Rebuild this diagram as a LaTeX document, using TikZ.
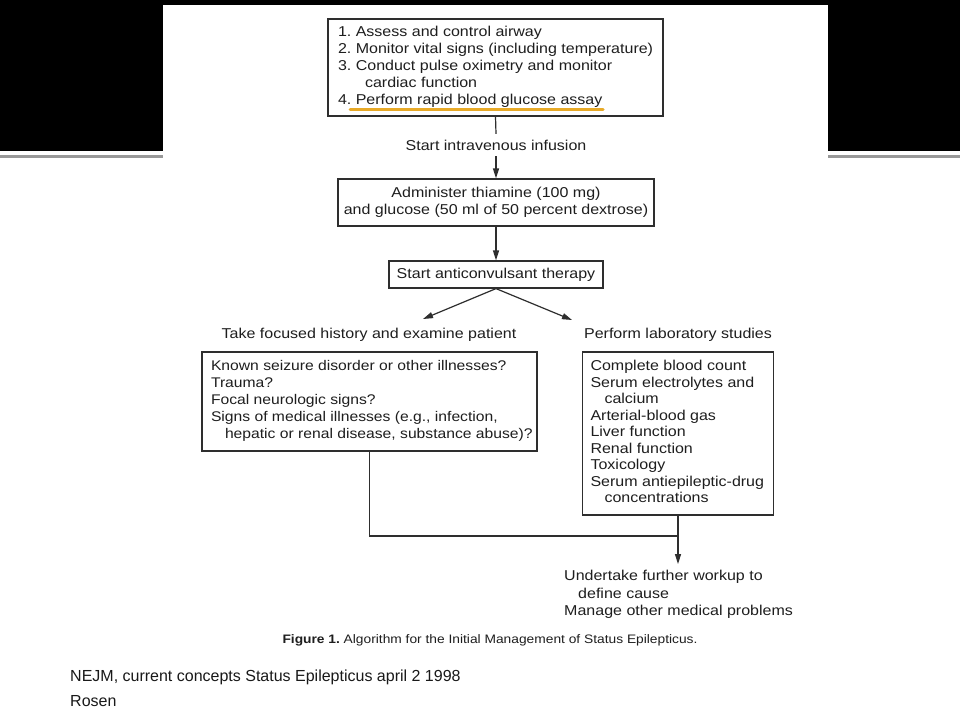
\documentclass[tikz,border=0pt]{standalone}
\usepackage{fontspec}
\setmainfont{Liberation Sans}
\newfontfamily\figfont{Liberation Sans}[FakeStretch=1.12]
\usetikzlibrary{arrows.meta}
\definecolor{inkc}{HTML}{1E1E1E}
\definecolor{linec}{HTML}{2E2E2E}
\definecolor{hl}{RGB}{232,170,40}
\newcommand\lefttext[2]{\makebox[#1][l]{\begin{tabular}{@{}l@{}}#2\end{tabular}}}
\frenchspacing
\begin{document}
\begin{tikzpicture}[x=1pt,y=-1pt,
  figtext/.style={text=inkc, font=\figfont\fontsize{14.3}{17}\selectfont},
  box/.style={figtext, draw=linec, line width=1.2pt, inner sep=0pt},
  lbl/.style={figtext, inner sep=0pt, minimum height=22pt},
  conn/.style={draw=linec, line width=1.2pt},
  arr/.style={conn, -{Triangle[length=10pt,width=6pt]}}]
\useasboundingbox (0,0) rectangle (960,720);
\fill[white] (0,0) rectangle (960,720);
% slide background
\fill[black] (0,0) rectangle (960,151);
\draw[black!40, line width=3pt] (0,156.5) -- (163,156.5);
\draw[black!40, line width=3pt] (828,156.5) -- (960,156.5);
\fill[white] (163,5) rectangle (828,652);
% boxes
\node[box, minimum width=335pt, minimum height=97pt] (assess) at (495.5,67.5)
  {\lefttext{315pt}{1. Assess and control airway\\
   2. Monitor vital signs (including temperature)\\
   3. Conduct pulse oximetry and monitor\\
   \hspace*{27pt}cardiac function\\
   4. Perform rapid blood glucose assay}};
\draw[hl, line width=3pt, line cap=round] (350,109) -- (603,109);
\node[lbl] (iv) at (496,145) {Start intravenous infusion};
\node[box, minimum width=316pt, minimum height=47pt, align=center] (thia) at (496,202.5)
  {Administer thiamine (100 mg)\\ and glucose (50 ml of 50 percent dextrose)};
\node[box, minimum width=214pt, minimum height=27pt] (anti) at (496,274.5)
  {Start anticonvulsant therapy};
\coordinate (tipL) at (423,319);
\coordinate (tipR) at (572,320);
\node[lbl] (hist) at (369,335) {Take focused history and examine patient};
\node[lbl] (labs) at (678,335) {Perform laboratory studies};
\node[box, minimum width=335pt, minimum height=99pt, font=\figfont\fontsize{14}{17}\selectfont] (hbox) at (369.5,401.5)
  {\lefttext{317pt}{Known seizure disorder or other illnesses?\\
   Trauma?\\
   Focal neurologic signs?\\
   Signs of medical illnesses (e.g., infection,\\
   \hspace*{14pt}hepatic or renal disease, substance abuse)?}};
\node[box, minimum width=191pt, minimum height=163pt, font=\figfont\fontsize{14.3}{16.5}\selectfont] (lbox) at (678,433.5)
  {\lefttext{175pt}{Complete blood count\\
   Serum electrolytes and\\
   \hspace*{14pt}calcium\\
   Arterial-blood gas\\
   Liver function\\
   Renal function\\
   Toxicology\\
   Serum antiepileptic-drug\\
   \hspace*{14pt}concentrations}};
\coordinate (join) at (678,536);
\node[figtext, anchor=west, inner xsep=0pt, inner ysep=4pt, font=\figfont\fontsize{14.3}{17.5}\selectfont] (out) at (564,594.5)
  {\begin{tabular}{@{}l@{}}Undertake further workup to\\
   \hspace*{14pt}define cause\\
   Manage other medical problems\end{tabular}};
\node[text=inkc, inner sep=0pt, font=\figfont\fontsize{12.3}{14}\selectfont] (cap) at (490,640)
  {\textbf{Figure 1.} Algorithm for the Initial Management of Status Epilepticus.};
% connectors
\draw[conn] (assess.south) -- (iv.north);
\draw[arr] (iv.south) -- (thia.north);
\draw[arr] (thia.south) -- (anti.north);
\draw[arr] (anti.south) -- (tipL);
\draw[arr] (anti.south) -- (tipR);
\draw[conn] (hbox.south) |- (join);
\draw[arr] (lbox.south) -- (lbox.south |- out.north);
% slide footer
\node[anchor=west, inner sep=0pt, text=black!90, font=\fontsize{16}{19}\selectfont] (ref) at (70,677)
  {NEJM, current concepts Status Epilepticus april 2 1998};
\node[anchor=west, inner sep=0pt, text=black!90, font=\fontsize{16}{19}\selectfont] (auth) at (70,701) {Rosen};
\end{tikzpicture}
\end{document}
